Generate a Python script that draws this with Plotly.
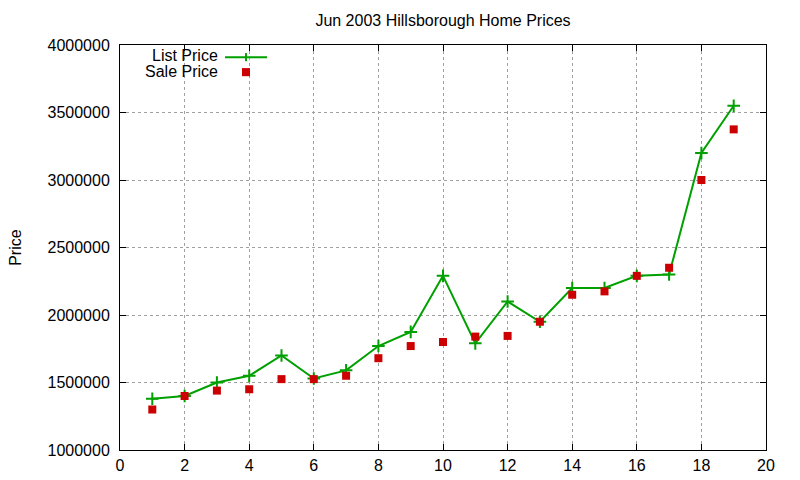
import plotly.graph_objects as go

# house index vs. price
house = list(range(1, 20))
list_price = [1380000, 1400000, 1500000, 1550000, 1700000, 1530000, 1590000, 1770000,
              1875000, 2290000, 1790000, 2100000, 1950000, 2200000, 2200000, 2290000,
              2300000, 3200000, 3550000]
sale_price = [1300000, 1400000, 1440000, 1450000, 1525000, 1525000, 1550000, 1680000,
              1770000, 1800000, 1840000, 1845000, 1950000, 2150000, 2175000, 2290000,
              2350000, 3000000, 3375000]
x_ticks = list(range(0, 21, 2))
y_ticks = list(range(1000000, 4000001, 500000))

GREEN = "#00a000"
RED = "#cc0000"
FONT = "Liberation Sans, Arial, sans-serif"

fig = go.Figure()
fig.add_trace(go.Scatter(
    x=house, y=list_price, mode="lines+markers", name="List Price",
    line=dict(color=GREEN, width=2),
    marker=dict(symbol="cross-thin", size=9, line=dict(color=GREEN, width=2)),
))
fig.add_trace(go.Scatter(
    x=house, y=sale_price, mode="markers", name="Sale Price",
    marker=dict(symbol="square", size=8, color=RED),
))

axis_common = dict(
    showline=True, linecolor="black", linewidth=1, mirror="ticks",
    ticks="inside", ticklen=6, tickcolor="black",
    showgrid=True, gridcolor="#a0a0a0", griddash="dot", gridwidth=1,
    zeroline=False, tickfont=dict(family=FONT, size=16, color="black"),
)
fig.update_xaxes(range=[0, 20], tickvals=x_ticks, ticklabelstandoff=1, **axis_common)
fig.update_yaxes(range=[1000000, 4000000], tickvals=y_ticks,
                 ticktext=[str(v) for v in y_ticks], ticklabelstandoff=6, **axis_common)

# gnuplot-style key: text right-aligned, sample on the right
fig.add_annotation(x=0.155, y=0.975, xref="paper", yref="paper", text="List Price",
                   showarrow=False, xanchor="right", yanchor="middle",
                   font=dict(family=FONT, size=16, color="black"))
fig.add_annotation(x=0.155, y=0.935, xref="paper", yref="paper", text="Sale Price",
                   showarrow=False, xanchor="right", yanchor="middle",
                   font=dict(family=FONT, size=16, color="black"))
fig.add_shape(type="line", xref="paper", yref="paper", x0=0.1625, x1=0.2276, y0=0.970, y1=0.970,
              line=dict(color=GREEN, width=2))
fig.add_shape(type="line", xref="paper", yref="paper", x0=0.1950, x1=0.1950, y0=0.960, y1=0.980,
              line=dict(color=GREEN, width=2))
fig.add_shape(type="rect", xref="paper", yref="paper", x0=0.1888, x1=0.2012, y0=0.923, y1=0.943,
              line=dict(width=0), fillcolor=RED)

fig.add_annotation(x=-0.162, y=0.5, xref="paper", yref="paper", text="Price", textangle=-90,
                   showarrow=False, xanchor="center", yanchor="middle",
                   font=dict(family=FONT, size=16, color="black"))

fig.update_layout(
    width=800, height=480, autosize=False,
    margin=dict(l=112, r=42, t=37, b=38),
    paper_bgcolor="white", plot_bgcolor="white",
    showlegend=False,
    title=dict(text="Jun 2003 Hillsborough Home Prices", x=0.5, xref="paper",
               y=1 - 12 / 480, yanchor="middle",
               font=dict(family=FONT, size=16, color="black")),
)

fig.write_html("out.html")
